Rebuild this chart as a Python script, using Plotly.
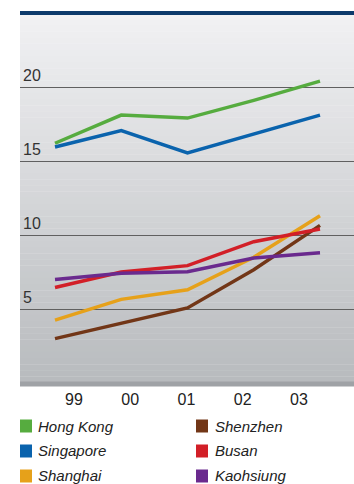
import plotly.graph_objects as go

# ---- data ----
years = ["99", "00", "01", "02", "03"]
tick_labels = ["99", "00", "01", "02", "03"]
hong_kong = [16.2, 18.1, 17.9, 19.1, 20.4]
singapore = [15.95, 17.05, 15.55, 16.85, 18.1]
shanghai = [4.25, 5.65, 6.3, 8.5, 11.3]
shenzhen = [3.0, 4.05, 5.07, 7.65, 10.65]
busan = [6.45, 7.5, 7.93, 9.55, 10.4]
kaohsiung = [7.0, 7.42, 7.52, 8.45, 8.8]
y_ticks = [5, 10, 15, 20]

series = [
    ("Hong Kong", hong_kong, "#56ac3f"),
    ("Singapore", singapore, "#0a63ad"),
    ("Shanghai", shanghai, "#e6a11a"),
    ("Shenzhen", shenzhen, "#723617"),
    ("Busan", busan, "#d21f27"),
    ("Kaohsiung", kaohsiung, "#6a2a8e"),
]

W, H = 354, 484
ML, MR, MT, MB = 20, 0, 13, 101
PW = W - ML - MR
PH = H - MT - MB


def px(xp):
    return (xp - ML) / PW


def py(yp):
    return (H - MB - yp) / PH


fig = go.Figure()
idx = list(range(len(years)))
for name, vals, col in series:
    fig.add_trace(go.Scatter(x=idx, y=vals, mode="lines", name=name,
                             line=dict(color=col, width=3.5),
                             showlegend=False, hoverinfo="skip"))

# dummy trace for label axis
fig.add_trace(go.Scatter(x=tick_labels, y=[None] * len(tick_labels), xaxis="x2",
                         mode="markers", showlegend=False, hoverinfo="skip"))

shapes = []
# gradient background
n = 60
top = (241, 241, 243)
bot = (184, 187, 190)
for i in range(n):
    t = i / (n - 1)
    c = tuple(round(top[k] + (bot[k] - top[k]) * t) for k in range(3))
    shapes.append(dict(type="rect", xref="paper", yref="paper", x0=0, x1=1,
                       y0=1 - (i + 1) / n, y1=1 - i / n + 0.001,
                       fillcolor="rgb(%d,%d,%d)" % c, line=dict(width=0), layer="below"))
# top navy bar
shapes.append(dict(type="line", xref="paper", yref="paper", x0=0, x1=1, y0=1, y1=1,
                   line=dict(color="#0c3a6b", width=4)))
# bottom grey bar
shapes.append(dict(type="rect", xref="paper", yref="paper", x0=0, x1=1,
                   y0=py(386.5), y1=py(381.5), fillcolor="#9fa2a6", line=dict(width=0)))

annotations = []
# manual legend, column-major
legend_rows = [426, 451, 476]
legend_cols = [(20, 36), (196, 213)]
for k, (name, vals, col) in enumerate(series):
    cx, tx = legend_cols[k // 3]
    ry = legend_rows[k % 3]
    shapes.append(dict(type="rect", xref="paper", yref="paper",
                       x0=px(cx), x1=px(cx + 12), y0=py(ry + 6.5), y1=py(ry - 6.5),
                       fillcolor=col, line=dict(width=0)))
    annotations.append(dict(xref="paper", yref="paper", x=px(tx), y=py(ry),
                            xanchor="left", yanchor="middle", showarrow=False,
                            text="<i>%s</i>" % name,
                            font=dict(family="Liberation Sans", size=15, color="#222")))

# x ranges (data vs label axis)
d0, d4 = 55, 320
s = (d4 - d0) / 4
xr = [-(d0 - ML) / s, 4 + (W - MR - d4) / s]
l0, l4 = 74, 299
s2 = (l4 - l0) / 4
xr2 = [-(l0 - ML) / s2, 4 + (W - MR - l4) / s2]

fig.update_layout(
    width=W, height=H,
    margin=dict(l=ML, r=MR, t=MT, b=MB),
    paper_bgcolor="white", plot_bgcolor="rgba(0,0,0,0)",
    font=dict(family="Liberation Sans", size=16, color="#333"),
    xaxis=dict(range=xr, showticklabels=False, showgrid=False, zeroline=False,
               showline=False, ticks=""),
    xaxis2=dict(range=xr2, overlaying="x", side="bottom", type="linear",
                tickmode="array", tickvals=list(range(len(tick_labels))),
                ticktext=tick_labels, showgrid=False, zeroline=False,
                showline=False, ticks="", ticklabelstandoff=5,
                tickfont=dict(size=16, color="#222")),
    yaxis=dict(range=[0, 25], tickmode="array", tickvals=y_ticks,
               ticktext=[str(v) for v in y_ticks], ticklabelposition="inside top",
               showgrid=True, gridcolor="#606060", gridwidth=1.2, zeroline=False,
               showline=False, ticks="", tickfont=dict(size=16, color="#333")),
    shapes=shapes, annotations=annotations, showlegend=False,
)

fig.write_html("out.html")
